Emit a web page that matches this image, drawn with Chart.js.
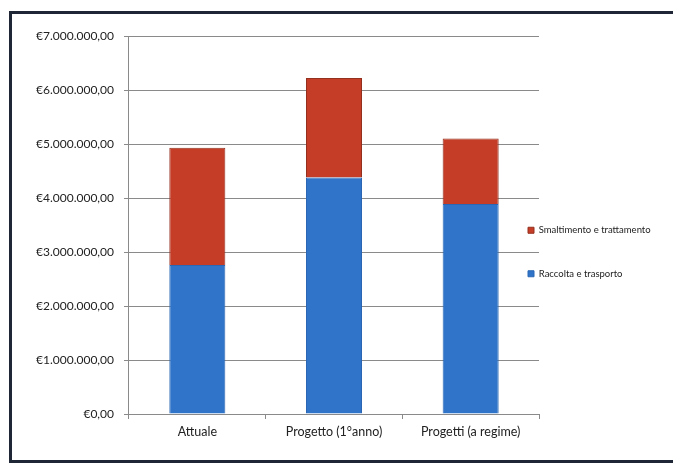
<!DOCTYPE html>
<html>
<head>
<meta charset="utf-8">
<script src="https://cdn.jsdelivr.net/npm/chart.js@4"></script>
<style>
    html, body { margin: 0; padding: 0; background: #fff; overflow: hidden; }
    #frame {
        position: absolute; left: 9px; top: 11px; width: 680px; height: 446px;
        border: 3px solid #1f2636; background: #fff;
    }
    #chart { position: absolute; left: 0; top: 0; }
</style>
</head>
<body>
<div id="frame"><canvas id="chart" width="660" height="444"></canvas></div>
<script>
const categories = ['Attuale', 'Progetto (1°anno)', 'Progetti (a regime)'];
const raccolta = [2760000, 4380000, 3890000];
const smaltimento = [2170000, 1840000, 1210000];
const seriesNames = ['Raccolta e trasporto', 'Smaltimento e trattamento'];
const yTicks = [0, 1000000, 2000000, 3000000, 4000000, 5000000, 6000000, 7000000];

function euro(v) {
    // €7.000.000,00 style
    const s = Math.round(v).toString().replace(/\B(?=(\d{3})+(?!\d))/g, '.');
    return '€' + s + ',00';
}

const FONT = 'Lato, "Liberation Sans", sans-serif';

// legend sits a bit into the plot, like in the original
const legendShift = {
    id: 'legendShift',
    beforeInit(chart) {
        const fit = chart.legend.fit;
        chart.legend.fit = function () {
            fit.call(this);
            this.width = 133;
        };
    },
    afterLayout(chart) {
        const lg = chart.legend;
        lg.left -= 45;
        lg.width = lg.right - lg.left;
        lg.top += 12; lg.bottom += 12;
    }
};

new Chart(document.getElementById('chart').getContext('2d'), {
    type: 'bar',
    data: {
        labels: categories,
        datasets: [{
            label: seriesNames[0],
            data: raccolta,
            backgroundColor: '#2f74c8',
            borderColor: '#2a66b3',
            borderWidth: 1,
            barPercentage: 0.41,
            categoryPercentage: 1
        }, {
            label: seriesNames[1],
            data: smaltimento,
            backgroundColor: '#c63d27',
            borderColor: '#93301f',
            borderWidth: 1,
            barPercentage: 0.41,
            categoryPercentage: 1
        }]
    },
    options: {
        responsive: false,
        animation: false,
        layout: { padding: { left: 14, top: 22, bottom: 14, right: 0 } },
        scales: {
            x: {
                stacked: true,
                grid: { display: true, drawOnChartArea: false, drawTicks: true, tickLength: 5, color: '#8a8a8a', offset: true },
                border: { color: '#8a8a8a' },
                ticks: { color: '#222', font: { family: FONT, size: 12.5 }, padding: 5 }
            },
            y: {
                stacked: true,
                min: 0,
                max: 7000000,
                afterBuildTicks(axis) { axis.ticks = yTicks.map(v => ({ value: v })); },
                grid: { color: '#8a8a8a', tickLength: 5 },
                border: { color: '#8a8a8a' },
                ticks: { color: '#222', font: { family: FONT, size: 12 }, padding: 10, callback: v => euro(v) }
            }
        },
        plugins: {
            legend: {
                position: 'right',
                reverse: true,
                labels: {
                    boxWidth: 6, boxHeight: 6, padding: 34,
                    color: '#222',
                    font: { family: FONT, size: 9.5 }
                }
            },
            tooltip: { enabled: false }
        }
    },
    plugins: [legendShift]
});
</script>
</body>
</html>
